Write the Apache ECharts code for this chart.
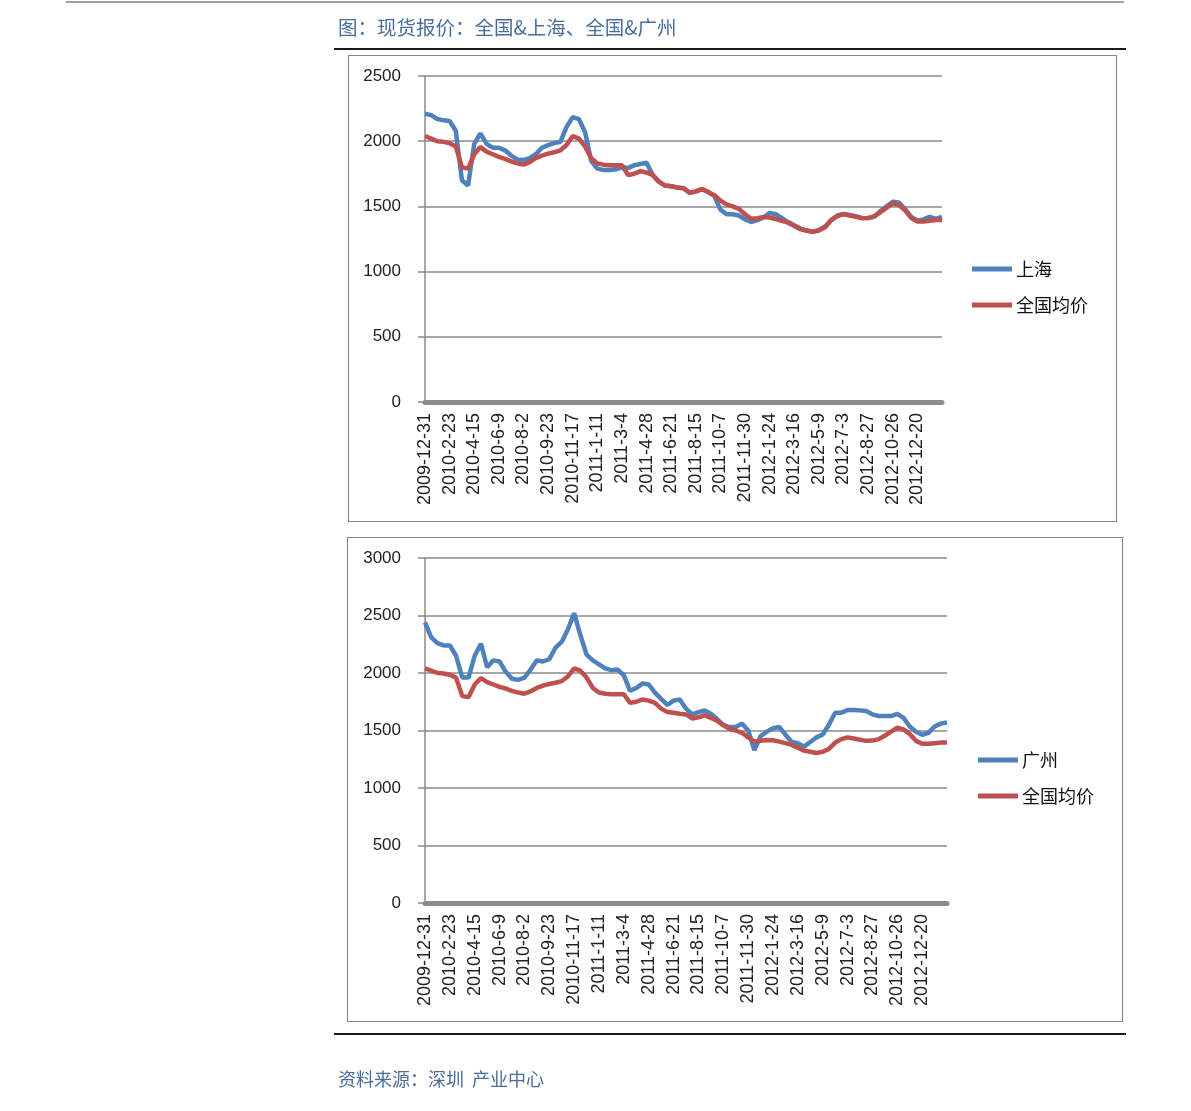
<!DOCTYPE html>
<html>
<head>
<meta charset="utf-8">
<script src="https://cdn.jsdelivr.net/npm/echarts@6/dist/echarts.min.js"></script>
<style>
html,body{margin:0;padding:0;background:#fff;}
#c{width:1191px;height:1111px;}
</style>
</head>
<body>
<div id="c"></div>
<script>
// ---- data ----
const tickLabels = ['2009-12-31','2010-2-23','2010-4-15','2010-6-9','2010-8-2','2010-9-23','2010-11-17','2011-1-11','2011-3-4','2011-4-28','2011-6-21','2011-8-15','2011-10-7','2011-11-30','2012-1-24','2012-3-16','2012-5-9','2012-7-3','2012-8-27','2012-10-26','2012-12-20'];
const pointsPerTick = 4;

const shanghai = [2210,2200,2170,2160,2155,2080,1700,1660,1980,2060,
  1980,1950,1950,1930,1890,1860,1855,1870,1900,1950,
  1970,1985,1995,2110,2185,2170,2070,1850,1790,1780,
  1780,1785,1800,1795,1815,1825,1835,1740,1690,1660,
  1655,1645,1640,1605,1615,1633,1610,1580,1475,1440,
  1440,1430,1400,1380,1395,1415,1450,1440,1410,1380,
  1355,1330,1315,1305,1320,1345,1395,1430,1442,1435,
  1425,1412,1410,1420,1465,1500,1535,1530,1480,1420,
  1390,1400,1420,1405,1420];

const national = [2040,2020,2000,1995,1985,1960,1800,1790,1900,1955,
  1920,1900,1880,1865,1845,1830,1820,1840,1870,1890,
  1905,1915,1930,1970,2040,2020,1960,1870,1830,1820,
  1815,1815,1815,1740,1750,1770,1760,1740,1690,1660,
  1655,1645,1640,1605,1615,1633,1610,1585,1545,1515,
  1500,1480,1440,1405,1410,1418,1415,1403,1390,1375,
  1350,1325,1315,1305,1315,1340,1395,1425,1440,1430,
  1420,1410,1412,1425,1455,1490,1525,1510,1470,1410,
  1385,1385,1390,1395,1395];

const guangzhou = [2440,2310,2260,2240,2240,2150,1960,1960,2150,2255,
  2050,2110,2100,2010,1950,1940,1960,2030,2110,2100,
  2120,2220,2270,2380,2520,2330,2160,2110,2075,2040,
  2025,2030,1980,1845,1870,1910,1900,1830,1775,1722,
  1760,1770,1690,1640,1660,1675,1645,1600,1548,1530,
  1530,1560,1500,1330,1450,1490,1520,1530,1465,1400,
  1390,1360,1400,1440,1465,1550,1655,1655,1678,1678,
  1675,1670,1640,1626,1626,1626,1644,1610,1535,1490,
  1462,1480,1535,1560,1570];

const yTicksTop = [0,500,1000,1500,2000,2500];
const yTicksBottom = [0,500,1000,1500,2000,2500,3000];

// category axis built from tick labels (only every 4th category is labelled)
const categories = shanghai.map((v,i)=> (i % pointsPerTick === 0 && tickLabels[i/pointsPerTick]) ? tickLabels[i/pointsPerTick] : ' ' + i);

const BLUE = '#4F81BD', RED = '#C0504D', GRID = '#8a8a8a', TXT = '#222';
const LATIN = 'Liberation Sans, Arial, sans-serif';
const CJK = '"Noto Sans CJK SC", sans-serif';

function xAxisCfg(gi){
  return {
    type:'category', gridIndex:gi, data:categories, boundaryGap:false, offset:2,
    axisLine:{show:true, lineStyle:{color:'#8c8c8c', width:5}},
    axisTick:{show:false},
    axisLabel:{interval:pointsPerTick-1, rotate:90, fontSize:18, fontFamily:LATIN, color:TXT, margin:9,
      formatter:(v)=> v.charAt(0)===' ' ? '' : v},
    splitLine:{show:false}
  };
}
function yAxisCfg(gi, ticks){
  return {
    type:'value', gridIndex:gi, min:ticks[0], max:ticks[ticks.length-1], interval:ticks[1]-ticks[0],
    axisLine:{show:true, lineStyle:{color:'#8a8a8a', width:1.5}},
    axisTick:{show:true, length:7, lineStyle:{color:'#8a8a8a', width:1.5}},
    axisLabel:{fontSize:17, fontFamily:LATIN, color:TXT, margin:24, formatter:(v)=>String(v)},
    splitLine:{show:true, lineStyle:{color:GRID, width:1.5}}
  };
}
function lineSeries(name, data, color, gi){
  return {type:'line', name, data, xAxisIndex:gi, yAxisIndex:gi, symbol:'none', smooth:false,
    lineStyle:{color, width:4.5}, itemStyle:{color}, animation:false};
}
function legendCfg(names, left, top){
  return {data:names, orient:'vertical', left, top, icon:'rect', itemWidth:40, itemHeight:5, itemGap:18,
    textStyle:{fontSize:18, fontFamily:CJK, color:'#111', padding:[0,0,0,-1]}, selectedMode:false};
}

const chart = echarts.init(document.getElementById('c'));
chart.setOption({
  animation:false,
  backgroundColor:'#fff',
  grid:[
    {left:425, width:517, top:76, height:326},
    {left:425, width:522, top:558, height:345}
  ],
  xAxis:[xAxisCfg(0), xAxisCfg(1)],
  yAxis:[yAxisCfg(0, yTicksTop), yAxisCfg(1, yTicksBottom)],
  legend:[
    legendCfg(['上海','全国均价'], 967, 255),
    legendCfg(['广州','全国均价'], 973, 746)
  ],
  series:[
    lineSeries('上海', shanghai, BLUE, 0),
    lineSeries('全国均价', national, RED, 0),
    lineSeries('广州', guangzhou, BLUE, 1),
    lineSeries('全国均价', national, RED, 1)
  ],
  graphic:[
    {type:'line', shape:{x1:66,y1:2,x2:1124,y2:2}, style:{stroke:'#a0a0a0', lineWidth:2}, silent:true},
    {type:'text', left:338, top:18, style:{text:'图：现货报价：全国&上海、全国&广州', font:'19.5px "Noto Sans CJK SC", serif', fill:'#4a6d9e'}, silent:true},
    {type:'line', shape:{x1:334,y1:49,x2:1126,y2:49}, style:{stroke:'#1a1a1a', lineWidth:2}, silent:true},
    {type:'rect', shape:{x:348.5,y:55.5,width:768,height:466}, style:{fill:'none', stroke:'#8a8a8a', lineWidth:1.2}, silent:true, z:-1},
    {type:'rect', shape:{x:347.5,y:537.5,width:775,height:484}, style:{fill:'none', stroke:'#8a8a8a', lineWidth:1.2}, silent:true, z:-1},
    {type:'line', shape:{x1:334,y1:1034,x2:1126,y2:1034}, style:{stroke:'#1a1a1a', lineWidth:2}, silent:true},
    {type:'text', left:338, top:1070, style:{text:'资料来源：深圳  产业中心', font:'18px "Noto Sans CJK SC", serif', fill:'#4a6d9e'}, silent:true}
  ]
});
</script>
</body>
</html>
